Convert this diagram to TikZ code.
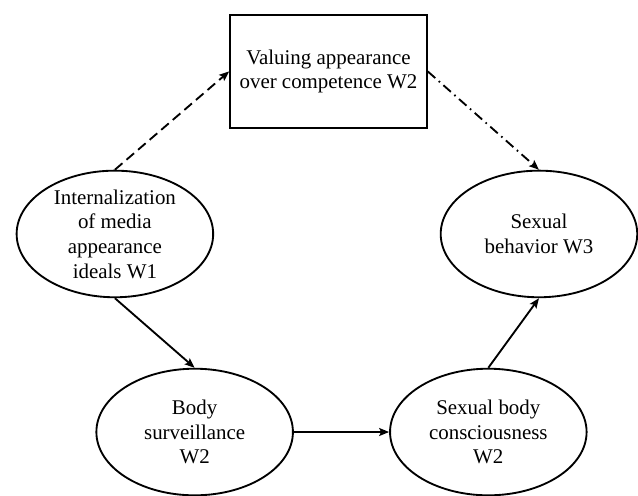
\documentclass[tikz,border=0pt]{standalone}
\usepackage{fontspec}
\setmainfont{Liberation Serif}
\usepackage{tikz}
\usetikzlibrary{shapes.geometric, arrows.meta, positioning}

\begin{document}
\begin{tikzpicture}[
  construct/.style={ellipse, draw=black, line width=1.4pt, minimum width=5.2cm, minimum height=3.35cm, inner sep=0pt, align=center, font=\fontsize{15.75}{18.6}\selectfont},
  mediator/.style={rectangle, draw=black, line width=1.6pt, minimum width=5.2cm, minimum height=2.98cm, inner sep=0pt, align=center, font=\fontsize{15.75}{18.2}\selectfont},
  arrow/.style={-{Stealth[length=7.5pt, width=6pt, inset=1.5pt]}, line width=1.4pt},
  dashdot/.style={dash pattern=on 7.5pt off 3.5pt on 1.2pt off 3.5pt}
]
\useasboundingbox (0,0) rectangle (16.88,-13.10);
\node[mediator] (valuing) at (8.69,-1.89) {Valuing appearance\\over competence W2};
\node[construct] (internal) at (3.04,-6.19) {Internalization\\of media\\appearance\\ideals W1};
\node[construct] (behavior) at (14.26,-6.19) {Sexual\\behavior W3};
\node[construct] (surveil) at (5.15,-11.43) {Body\\surveillance\\W2};
\node[construct] (conscious) at (12.92,-11.43) {Sexual body\\consciousness\\W2};

\draw[arrow, dash pattern=on 7.5pt off 4pt] (internal.north) -- (valuing.west);
\draw[arrow, dashdot] (valuing.east) -- (behavior.north);
\draw[arrow] (internal.south) -- (surveil.north);
\draw[arrow] (surveil.east) -- (conscious.west);
\draw[arrow] (conscious.north) -- (behavior.south);
\end{tikzpicture}
\end{document}
